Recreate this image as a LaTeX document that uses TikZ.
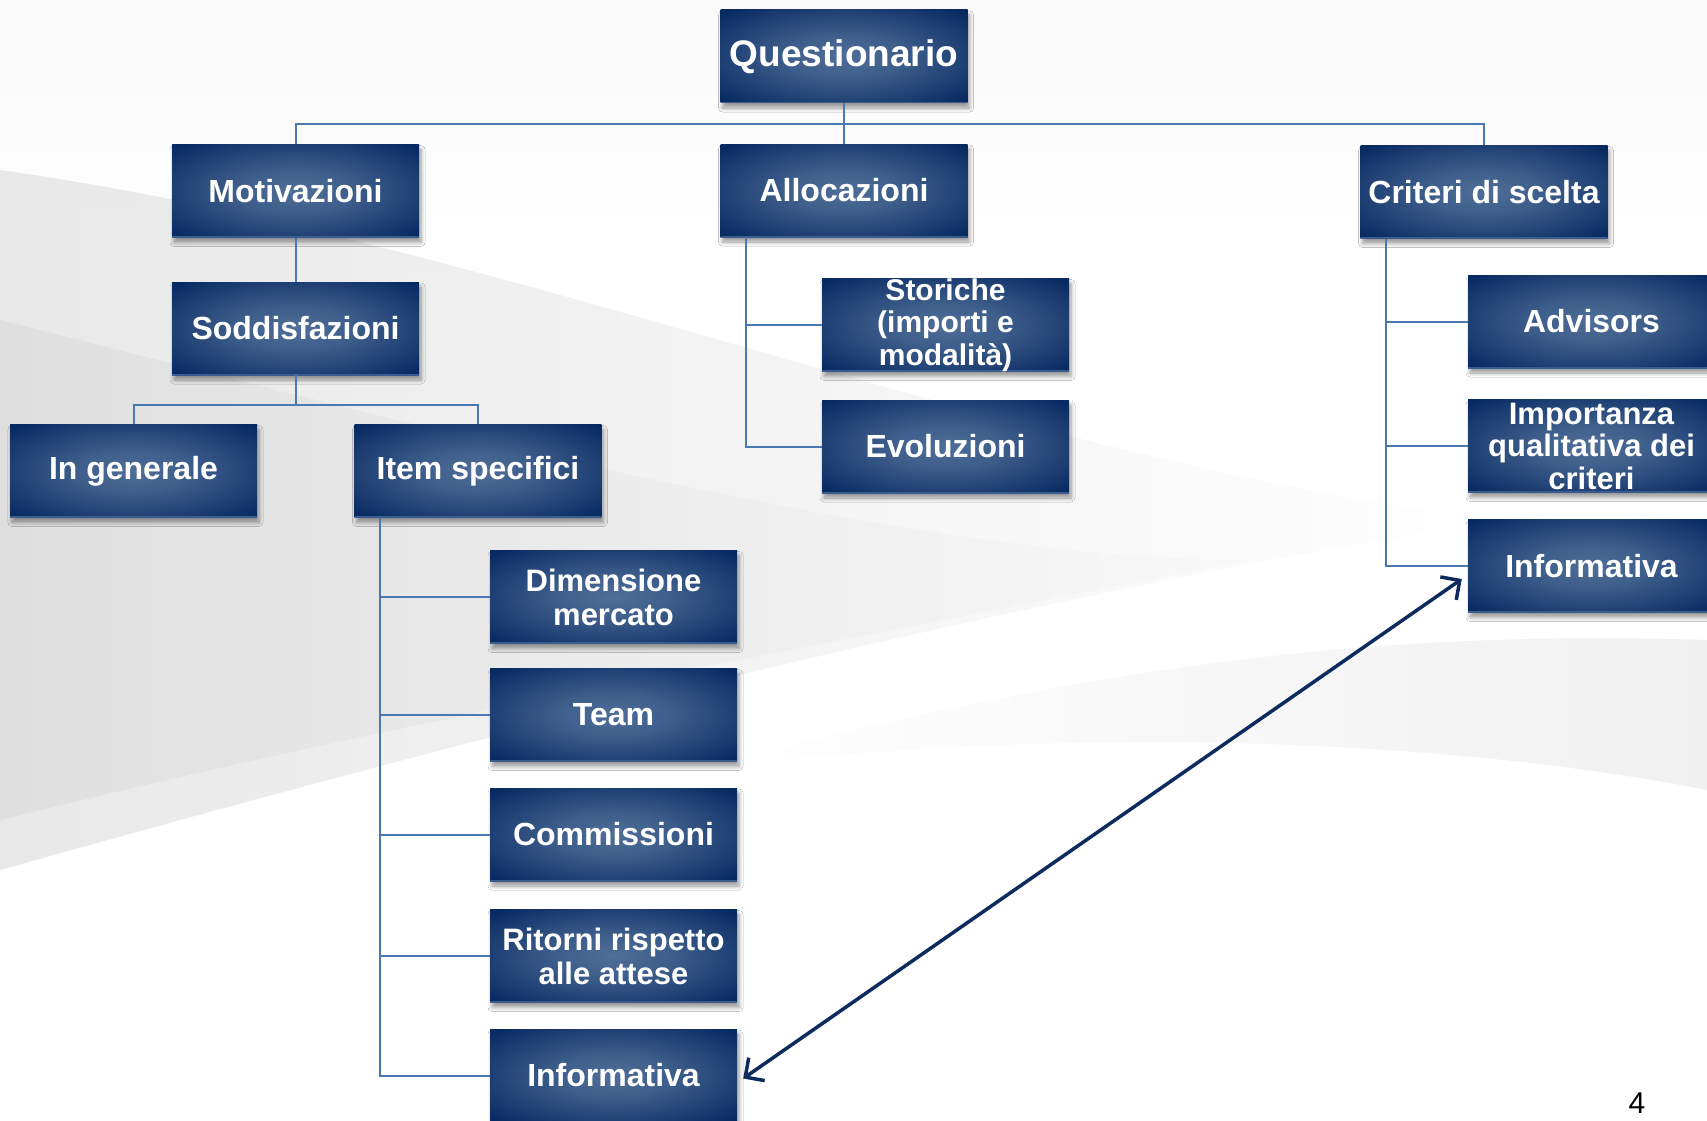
\documentclass[tikz,border=0pt]{standalone}
\usepackage{fontspec}
\setmainfont{Liberation Sans}
\usetikzlibrary{shadows.blur,arrows.meta}
\definecolor{boxdark}{HTML}{072A62}
\definecolor{boxlight}{HTML}{4F6E98}
\definecolor{boxedge}{HTML}{3A5C8E}
\definecolor{connblue}{HTML}{4A78B4}
\definecolor{arrownavy}{HTML}{0E2B5E}
\pgfdeclareradialshading{boxglow}{\pgfpoint{0bp}{0bp}}{color(0bp)=(boxlight); color(12bp)=(boxlight!75!boxdark); color(34bp)=(boxdark); color(50bp)=(boxdark)}
\tikzset{
  boxnode/.style={rectangle, minimum width=247pt, minimum height=93pt, inner sep=0pt,
    shading=boxglow, text=white, align=center,
    font=\fontsize{32}{33}\selectfont\bfseries,
    blur shadow={shadow xshift=2pt, shadow yshift=-5pt, shadow blur steps=6, shadow blur radius=4pt, shadow opacity=40},
    path picture={\draw[boxedge, line width=2.5pt] (path picture bounding box.south west) -- (path picture bounding box.south east);}},
  conn/.style={draw=connblue, line width=2pt},
  link/.style={draw=arrownavy, line width=3.5pt, {Straight Barb[length=14pt,width=28pt]}-{Straight Barb[length=14pt,width=28pt]}}
}
\begin{document}
\begin{tikzpicture}[x=1pt,y=-1pt]
\useasboundingbox (0,0) rectangle (1707,1121);
% background
\fill[white] (0,0) rectangle (1707,1121);
\shade[top color=gray!4, bottom color=white] (0,0) rectangle (1707,300);
\shade[left color=gray!22, right color=white, opacity=.8] (0,170) .. controls (500,240) and (1000,460) .. (1500,520) .. controls (1000,600) and (500,730) .. (0,870) -- cycle;
\shade[left color=gray!30, right color=gray!6, opacity=.55] (0,320) .. controls (400,420) and (900,560) .. (1250,560) .. controls (900,630) and (400,720) .. (0,820) -- cycle;
\shade[left color=white, right color=gray!14, opacity=.8] (700,770) .. controls (1100,660) and (1400,630) .. (1707,640) -- (1707,790) .. controls (1400,730) and (1000,730) .. (700,770) -- cycle;
% nodes
\node[boxnode, font=\fontsize{37}{38}\selectfont\bfseries] (Q)  at (844,56.5) {Questionario};
\node[boxnode] (Mo) at (295.5,191) {Motivazioni};
\node[boxnode] (So) at (295.5,328.5) {Soddisfazioni};
\node[boxnode] (Al) at (844,190.5) {Allocazioni};
\node[boxnode] (Cr) at (1484,192) {Criteri di scelta};
\node[boxnode, font=\fontsize{30}{32.5}\selectfont\bfseries] (St) at (945.5,325) {Storiche\\(importi e\\modalità)};
\node[boxnode] (Ev) at (945.5,446.5) {Evoluzioni};
\node[boxnode] (IG) at (133.5,471) {In generale};
\node[boxnode] (IS) at (478,471) {Item specifici};
\node[boxnode, font=\fontsize{31}{34}\selectfont\bfseries] (Di) at (613.5,597) {Dimensione\\mercato};
\node[boxnode] (Te) at (613.5,715) {Team};
\node[boxnode] (Co) at (613.5,834.5) {Commissioni};
\node[boxnode, font=\fontsize{31}{34}\selectfont\bfseries] (Ri) at (613.5,956) {Ritorni rispetto\\alle attese};
\node[boxnode] (IL) at (613.5,1075.5) {Informativa};
\node[boxnode] (Ad) at (1591.5,321.5) {Advisors};
\node[boxnode, font=\fontsize{31}{32.5}\selectfont\bfseries] (Im) at (1591.5,446) {Importanza\\qualitativa dei\\criteri};
\node[boxnode] (IR) at (1591.5,566) {Informativa};
\node[font=\fontsize{30}{30}\selectfont] (pg) at (1637,1103) {4};
% connectors
\coordinate (hub) at (844,124.5);
\coordinate (hub2) at (295.5,405);
\coordinate (alx) at (746,0);
\coordinate (crx) at (1386,0);
\coordinate (isx) at (380,0);
\draw[conn] (Q.south) -- (Al.north);
\draw[conn] (Mo.north) |- (hub) -| (Cr.north);
\draw[conn] (Mo.south) -- (So.north);
\draw[conn] (So.south) -- (hub2);
\draw[conn] (IG.north) |- (hub2) -| (IS.north);
\draw[conn] (Al.south -| alx) |- (St.west);
\draw[conn] (Al.south -| alx) |- (Ev.west);
\draw[conn] (Cr.south -| crx) |- (Ad.west);
\draw[conn] (Cr.south -| crx) |- (Im.west);
\draw[conn] (Cr.south -| crx) |- (IR.west);
\draw[conn] (IS.south -| isx) |- (Di.west);
\draw[conn] (IS.south -| isx) |- (Te.west);
\draw[conn] (IS.south -| isx) |- (Co.west);
\draw[conn] (IS.south -| isx) |- (Ri.west);
\draw[conn] (IS.south -| isx) |- (IL.west);
\draw[link] ([xshift=6pt,yshift=-3pt]IL.east) -- ([xshift=-6pt,yshift=-13pt]IR.west);
\end{tikzpicture}
\end{document}
